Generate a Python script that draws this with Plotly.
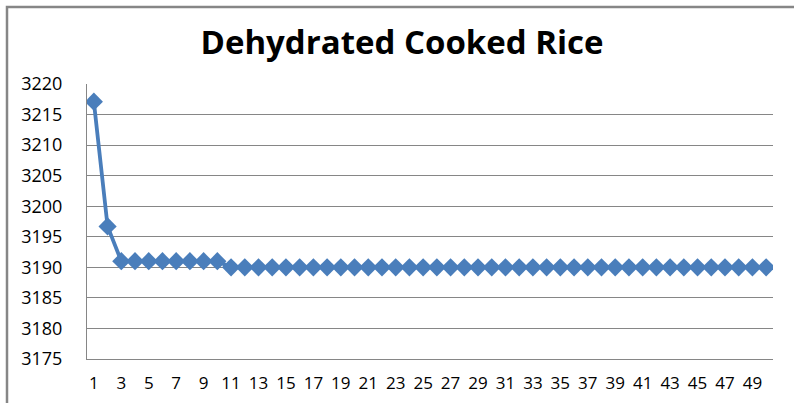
import plotly.graph_objects as go

categories = list(range(1, 51))
values = [3217.1, 3196.7] + [3191.0] * 8 + [3190.0] * 40
y_ticks = [3175, 3180, 3185, 3190, 3195, 3200, 3205, 3210, 3215, 3220]
x_ticks = list(range(1, 50, 2))

W, H = 794, 403
L, R, T, B = 87, 21, 84, 44
pw, ph = W - L - R, H - T - B

fig = go.Figure()
fig.add_trace(go.Scatter(
    x=categories, y=values, mode="lines+markers",
    line=dict(color="#4A7EBB", width=3.8),
    marker=dict(symbol="diamond", size=14, color="#4A7EBB"),
    showlegend=False, hoverinfo="skip",
))

fig.update_layout(
    width=W, height=H,
    margin=dict(l=L, r=R, t=T, b=B, autoexpand=False),
    paper_bgcolor="white", plot_bgcolor="white",
    font=dict(family="Open Sans", color="#000000"),
    title=dict(text="<b>Dehydrated Cooked Rice</b>", x=402 / W, xanchor="center",
               y=1 - 42 / H, yanchor="middle",
               font=dict(family="Open Sans", size=33, color="#000000")),
    xaxis=dict(range=[0.5, 50.5], tickmode="array", tickvals=x_ticks,
               ticktext=[str(v) for v in x_ticks], showgrid=False, automargin=False,
               showline=True, linecolor="#868686", linewidth=1, zeroline=False,
               ticks="", ticklabelstandoff=9, tickfont=dict(size=17, color="#000000")),
    yaxis=dict(range=[3175, 3220], tickmode="array", tickvals=y_ticks, automargin=False,
               showgrid=True, gridcolor="#868686", gridwidth=1,
               showline=True, linecolor="#868686", linewidth=1, zeroline=False,
               ticks="", ticklabelstandoff=20, tickfont=dict(size=18, color="#000000")),
    shapes=[dict(type="rect", xref="paper", yref="paper",
                 x0=(7 - L) / pw, x1=(950 - L) / pw,
                 y0=(H - B - 500) / ph, y1=(H - B - 7) / ph,
                 line=dict(color="#868686", width=2.5), layer="below")],
)

fig.write_html("out.html", config={"displayModeBar": False},
               post_script="document.body.style.margin='0';document.body.style.overflow='hidden';")
